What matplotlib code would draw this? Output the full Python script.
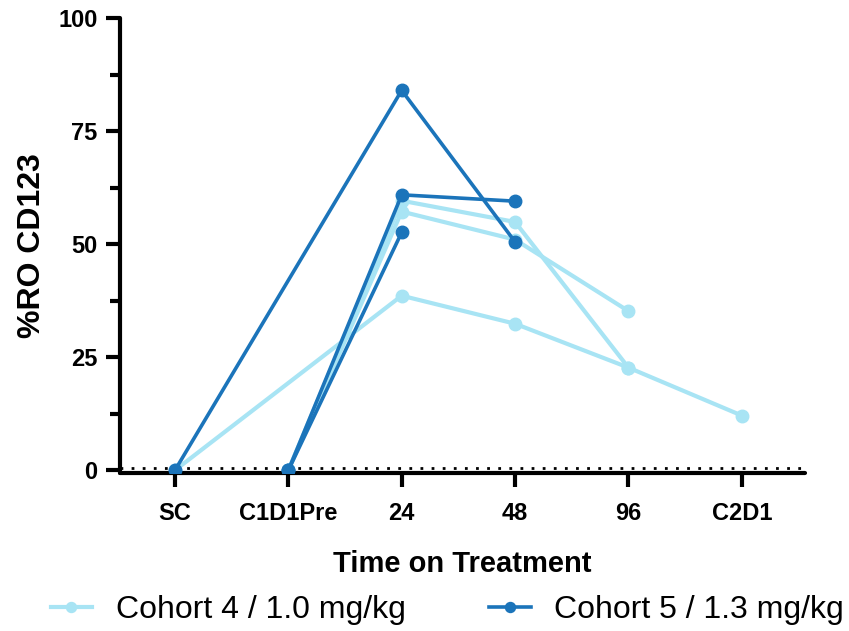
from matplotlib import pyplot as plt

plt.rcParams['font.family'] = ['Liberation Sans', 'DejaVu Sans']

categories = ["SC", "C1D1Pre", "24", "48", "96", "C2D1"]

# Cohort 4 / 1.0 mg/kg (light blue), one list per patient
c4_p1_t = ["SC", "24", "48", "96", "C2D1"]
c4_p1_v = [0, 38.6, 32.4, 22.7, 12.1]
c4_p2_t = ["C1D1Pre", "24", "48", "96"]
c4_p2_v = [0, 59.6, 54.9, 22.7]
c4_p3_t = ["C1D1Pre", "24", "48", "96"]
c4_p3_v = [0, 57.2, 51.0, 35.2]

# Cohort 5 / 1.3 mg/kg (dark blue)
c5_p1_t = ["SC", "24", "48"]
c5_p1_v = [0, 84.0, 50.5]
c5_p2_t = ["C1D1Pre", "24", "48"]
c5_p2_v = [0, 60.9, 59.5]
c5_p3_t = ["C1D1Pre", "24"]
c5_p3_v = [0, 52.6]

light = "#a8e4f4"
dark = "#1b74ba"

fig = plt.figure(figsize=(8.49, 6.31), dpi=100)
ax = fig.add_axes([0.1413, 0.2504, 0.8067, 0.7211])


def idx(times):
    return [categories.index(t) for t in times]


c4 = [(c4_p1_t, c4_p1_v), (c4_p2_t, c4_p2_v), (c4_p3_t, c4_p3_v)]
c5 = [(c5_p1_t, c5_p1_v), (c5_p2_t, c5_p2_v), (c5_p3_t, c5_p3_v)]

for i, (t, v) in enumerate(c4):
    ax.plot(idx(t), v, color=light, lw=3, marker="o", ms=9,
            label="Cohort 4 / 1.0 mg/kg" if i == 0 else None, zorder=2)
for i, (t, v) in enumerate(c5):
    ax.plot(idx(t), v, color=dark, lw=2.6, marker="o", ms=9,
            label="Cohort 5 / 1.3 mg/kg" if i == 0 else None, zorder=3)

# dotted line at y = 0
ax.axhline(0.4, color="black", lw=2, ls=(0, (1, 3)), zorder=1.5)

ax.set_xlim(-0.485, 5.556)
ax.set_ylim(-0.6, 100)
ax.set_xticks(range(len(categories)))
ax.set_xticklabels(categories)
ax.set_yticks([0, 25, 50, 75, 100])
ax.set_yticks([12.5, 37.5, 62.5, 87.5], minor=True)

for s in ["top", "right"]:
    ax.spines[s].set_visible(False)
for s in ["left", "bottom"]:
    ax.spines[s].set_linewidth(3)
    ax.spines[s].set_capstyle("round")

ax.tick_params(axis="both", which="major", width=3, length=10, labelsize=17, pad=6)
ax.tick_params(axis="y", which="minor", width=3, length=7)
ax.tick_params(axis="x", pad=11)
for lab in ax.get_xticklabels() + ax.get_yticklabels():
    lab.set_fontweight("bold")

ax.set_xlabel("Time on Treatment", fontsize=21, fontweight="bold", labelpad=18)
ax.set_ylabel("%RO CD123", fontsize=23, fontweight="bold", labelpad=8)

fig.legend(loc="center", bbox_to_anchor=(0.527, 0.033), ncol=2, frameon=False,
           fontsize=23, handlelength=1.3, handletextpad=0.75, columnspacing=2.6,
           markerscale=0.8)

plt.savefig("out.png", dpi=100)
